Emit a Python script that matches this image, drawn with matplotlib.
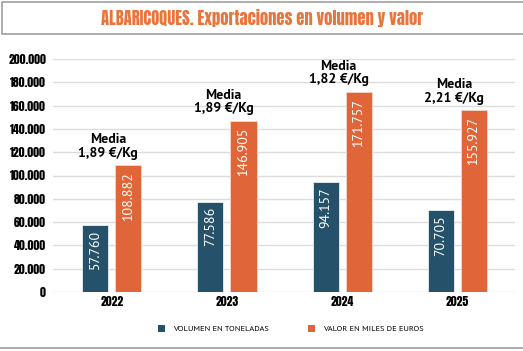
import matplotlib
matplotlib.use('Agg')
import matplotlib.pyplot as plt
from matplotlib import font_manager
from matplotlib.patches import Rectangle, Patch
from matplotlib.lines import Line2D
import numpy as np

# Datos
years = ['2022', '2023', '2024', '2025']
volumen = [57760, 77586, 94157, 70705]      # toneladas
valor = [108882, 146905, 171757, 155927]    # miles de euros
media = ['1,89', '1,89', '1,82', '2,21']    # €/Kg
yticks = list(range(0, 200001, 20000))

BLUE = '#25516a'
ORANGE = '#e0663a'
TITLE_ORANGE = '#e8763c'


def pick_font(candidates, fallback='DejaVu Sans'):
    names = {f.name for f in font_manager.fontManager.ttflist}
    for c in candidates:
        if c in names:
            return c
    return fallback


COND = pick_font(['Anton', 'Roboto Condensed', 'Liberation Sans Narrow'])
BODY = pick_font(['PT Sans', 'Open Sans', 'Noto Sans'])


def fmt(v):
    return f'{v:,}'.replace(',', '.')


fig = plt.figure(figsize=(5.23, 3.51), dpi=100)
W, H = 523, 351
ax = fig.add_axes([53 / W, (H - 292) / H, (515 - 53) / W, (292 - 59) / H])

x = np.arange(len(years))
off = 0.1435
bw = 0.226
ax.bar(x - off, volumen, bw, color=BLUE, edgecolor='#e8eef2', linewidth=0.6, zorder=3)
ax.bar(x + off, valor, bw, color=ORANGE, edgecolor='#f6d7c8', linewidth=0.6, zorder=3)

ax.set_xlim(-0.51, 3.5)
ax.set_ylim(0, 200000)
ax.set_yticks(yticks)
ax.set_yticklabels([fmt(t) for t in yticks], fontfamily=COND, fontsize=8.5)
ax.set_xticks(x)
ax.set_xticklabels(years, fontfamily=COND, fontsize=8.5)
ax.tick_params(length=0, pad=5)
ax.tick_params(axis='x', pad=3)
ax.grid(axis='y', color='#dcdcdc', linewidth=1, zorder=0)
for s in ax.spines.values():
    s.set_visible(False)

# etiquetas dentro de las barras y media €/Kg
for i in range(len(years)):
    ax.annotate(fmt(volumen[i]), (x[i] - off, volumen[i]), xytext=(0, -4),
                textcoords='offset points', rotation=90, ha='center', va='top',
                color='white', fontsize=10, fontfamily=BODY, zorder=4)
    ax.annotate(fmt(valor[i]), (x[i] + off, valor[i]), xytext=(0, -5),
                textcoords='offset points', rotation=90, ha='center', va='top',
                color='white', fontsize=10, fontfamily=BODY, zorder=4)
    ax.annotate(f'Media\n{media[i]} €/Kg', (x[i] - 0.03, valor[i]), xytext=(0, 4),
                textcoords='offset points', ha='center', va='bottom',
                fontsize=10, fontweight='bold', fontfamily=BODY,
                linespacing=1.05, annotation_clip=False)

# caja del título
fig.patches.append(Rectangle((2 / W, (H - 34) / H), 530 / W, 32 / H, transform=fig.transFigure,
                             facecolor='white', edgecolor='#a0a0a0', linewidth=1.2))
fig.text(262 / W, (H - 18) / H, 'ALBARICOQUES. Exportaciones en volumen y valor',
         ha='center', va='center', color=TITLE_ORANGE, fontsize=12, fontfamily=COND)

# línea inferior
fig.add_artist(Line2D([0, 1], [(H - 348) / H] * 2, transform=fig.transFigure,
                      color='#a0a0a0', linewidth=1.2))

handles = [Patch(facecolor=BLUE, label='VOLUMEN EN TONELADAS'),
           Patch(facecolor=ORANGE, label='VALOR EN MILES DE EUROS')]
fig.legend(handles=handles, loc='center', bbox_to_anchor=(290.5 / W, (H - 329) / H),
           ncol=2, frameon=False, handlelength=0.9, handleheight=0.9,
           handletextpad=0.9, columnspacing=4.7,
           prop={'family': BODY, 'size': 6})

fig.savefig('out.png', dpi=100)
